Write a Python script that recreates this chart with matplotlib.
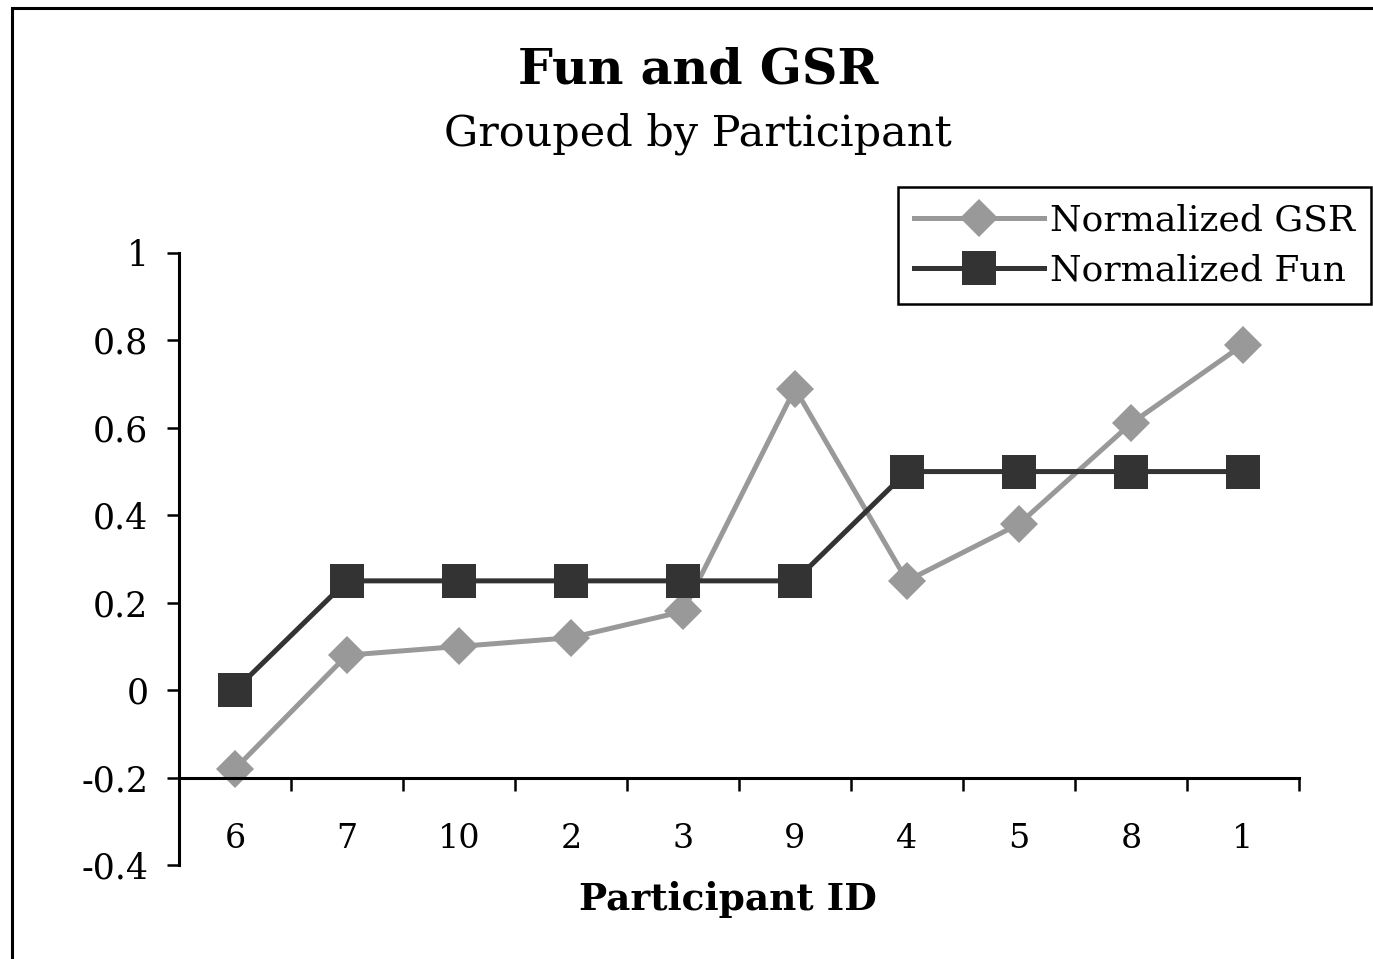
import numpy as np
import matplotlib.pyplot as plt
from matplotlib.patches import Rectangle
from matplotlib.ticker import FixedLocator, FixedFormatter, NullFormatter

# participant order as shown on the x axis
participants = ["6", "7", "10", "2", "3", "9", "4", "5", "8", "1"]
gsr = [-0.18, 0.08, 0.10, 0.12, 0.18, 0.69, 0.25, 0.38, 0.61, 0.79]
fun = [0.0, 0.25, 0.25, 0.25, 0.25, 0.25, 0.5, 0.5, 0.5, 0.5]
y_ticks = [-0.4, -0.2, 0, 0.2, 0.4, 0.6, 0.8, 1]
y_labels = ["-0.4", "-0.2", "0", "0.2", "0.4", "0.6", "0.8", "1"]

plt.rcParams["font.family"] = ["DejaVu Serif"]

fig = plt.figure(figsize=(13.73, 9.59), dpi=100)
W, H = 1373, 959

# outer chart frame (runs off right and bottom edge)
fig.patches.append(Rectangle((12 / W, -0.05), 1.1, 1 - 8 / H + 0.05, transform=fig.transFigure,
                             fill=False, edgecolor="black", linewidth=2.2))

ax = fig.add_axes([179 / W, 1 - 865 / H, 1120 / W, 612 / H])
x = np.arange(len(participants)) + 0.5

ax.plot(x, gsr, color="#999999", linewidth=3.6, marker="D", markersize=19,
        markeredgewidth=0, label="Normalized GSR", clip_on=False)
ax.plot(x, fun, color="#333333", linewidth=3.6, marker="s", markersize=24,
        markeredgewidth=0, label="Normalized Fun", clip_on=False)

ax.set_xlim(0, len(participants))
ax.set_ylim(-0.4, 1)

for s in ["top", "right"]:
    ax.spines[s].set_visible(False)
ax.spines["bottom"].set_position(("data", -0.2))
ax.spines["bottom"].set_linewidth(2.2)
ax.spines["left"].set_linewidth(2.2)

ax.xaxis.set_major_locator(FixedLocator(np.arange(len(participants) + 1)))
ax.xaxis.set_major_formatter(NullFormatter())
ax.xaxis.set_minor_locator(FixedLocator(x))
ax.xaxis.set_minor_formatter(FixedFormatter(participants))
ax.tick_params(axis="x", which="major", direction="out", length=9, width=1.8)
ax.tick_params(axis="x", which="minor", length=0, pad=33, labelsize=24)

ax.set_yticks(y_ticks)
ax.set_yticklabels(y_labels)
ax.tick_params(axis="y", direction="out", length=9, width=1.8, pad=13, labelsize=25)

fig.text(698 / W, 1 - 70 / H, "Fun and GSR", ha="center", va="center",
         fontsize=35.5, fontweight="bold")
fig.text(698 / W, 1 - 134 / H, "Grouped by Participant", ha="center", va="center",
         fontsize=31)
fig.text(728 / W, 1 - 900 / H, "Participant ID", ha="center", va="center",
         fontsize=27, fontweight="bold")

leg = fig.legend(loc="upper right", bbox_to_anchor=(1371 / W, 1 - 187 / H),
                 fontsize=26, frameon=True, fancybox=False, framealpha=1,
                 edgecolor="black", handlelength=3.6, handletextpad=0.15,
                 borderpad=0.45, labelspacing=0.45, borderaxespad=0)
leg.get_frame().set_linewidth(1.8)

fig.savefig("out.png", dpi=100)
